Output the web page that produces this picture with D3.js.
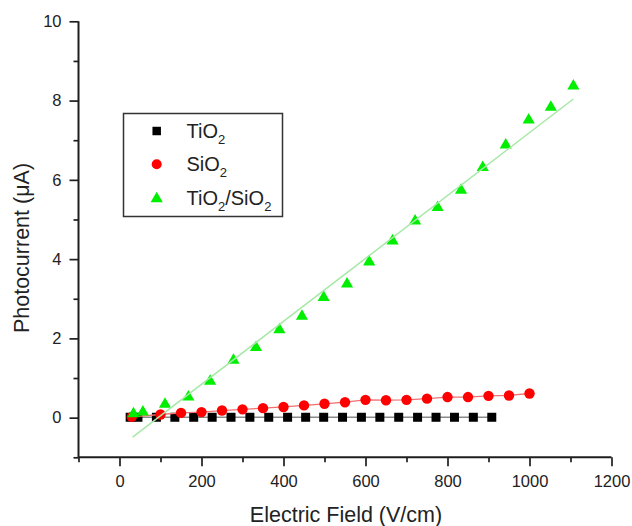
<!DOCTYPE html>
<html>
<head>
<meta charset="utf-8">
<script src="https://cdn.jsdelivr.net/npm/d3@7"></script>
<style>
  body { margin: 0; background: #fff; }
  svg { display: block; }
  text { font-family: "Liberation Sans", Arial, sans-serif; fill: #222; }
</style>
</head>
<body>
<svg id="chart" width="632" height="526"></svg>
<script>
// ---- data ----
const tio2X = [26, 45, 90, 135, 181, 226, 272, 318, 364, 410, 454, 498, 544, 590, 635, 681, 727, 772, 817, 863, 908];
const tio2Y = [0.01, 0.01, 0.01, 0.01, 0.01, 0.01, 0.01, 0.01, 0.01, 0.01, 0.01, 0.01, 0.01, 0.01, 0.01, 0.01, 0.01, 0.01, 0.01, 0.01, 0.01];

const sio2X = [30, 100, 150, 200, 250, 300, 350, 400, 450, 500, 550, 600, 650, 700, 750, 800, 850, 900, 950, 1000];
const sio2Y = [0.02, 0.08, 0.12, 0.14, 0.18, 0.21, 0.24, 0.27, 0.31, 0.35, 0.39, 0.45, 0.44, 0.45, 0.48, 0.52, 0.52, 0.55, 0.56, 0.61];

const compX = [34, 57, 111, 168, 221, 278, 333, 390, 445, 498, 555, 609, 666, 721, 776, 833, 886, 942, 998, 1052, 1107];
const compY = [0.10, 0.14, 0.34, 0.52, 0.92, 1.45, 1.77, 2.22, 2.56, 3.03, 3.37, 3.93, 4.46, 4.96, 5.30, 5.74, 6.31, 6.88, 7.51, 7.83, 8.37];

const fitX = [32, 1107];
const fitY = [-0.49, 8.04];

const xMajorTicks = [0, 200, 400, 600, 800, 1000, 1200];
const xMinorTicks = [-100, 100, 300, 500, 700, 900, 1100];
const yMajorTicks = [0, 2, 4, 6, 8, 10];
const yMinorTicks = [-1, 1, 3, 5, 7, 9];

// ---- layout ----
const svg = d3.select("#chart");
const x = d3.scaleLinear().domain([-100, 1200]).range([78.5, 611.5]);
const y = d3.scaleLinear().domain([-1, 10]).range([457.3, 21.3]);

const axisColor = "#1e1e1e";

const line = d3.line().x(d => x(d[0])).y(d => y(d[1]));
const tio2 = tio2X.map((v, i) => [v, tio2Y[i]]);
const sio2 = sio2X.map((v, i) => [v, sio2Y[i]]);
const comp = compX.map((v, i) => [v, compY[i]]);
const fit = fitX.map((v, i) => [v, fitY[i]]);

// series: TiO2 (black)
svg.append("path").datum(tio2).attr("d", line)
  .attr("fill", "none").attr("stroke", "#8a8a8a").attr("stroke-width", 1.5);
svg.append("g").selectAll("path").data(tio2).join("path")
  .attr("transform", d => `translate(${x(d[0])},${y(d[1])})`)
  .attr("d", d3.symbol().type(d3.symbolSquare).size(81))
  .attr("fill", "#000");

// series: SiO2 (red)
svg.append("path").datum(sio2).attr("d", line)
  .attr("fill", "none").attr("stroke", "#f07070").attr("stroke-width", 1.3);
svg.append("g").selectAll("circle").data(sio2).join("circle")
  .attr("cx", d => x(d[0])).attr("cy", d => y(d[1])).attr("r", 5.2)
  .attr("fill", "#ff0000");

// series: TiO2/SiO2 (green) + linear fit
svg.append("g").selectAll("path").data(comp).join("path")
  .attr("transform", d => `translate(${x(d[0])},${y(d[1])})`)
  .attr("d", d3.symbol().type(d3.symbolTriangle).size(64))
  .attr("fill", "#00ee00");
svg.append("path").datum(fit).attr("d", line)
  .attr("fill", "none").attr("stroke", "#a6e8a6").attr("stroke-width", 1.5);

// ---- axes ----
const gx = svg.append("g").attr("transform", `translate(0,${y(-1)})`);
gx.call(d3.axisBottom(x).tickValues(xMajorTicks).tickSize(9).tickPadding(9).tickFormat(d3.format("d")));
const gxm = svg.append("g").attr("transform", `translate(0,${y(-1)})`);
gxm.call(d3.axisBottom(x).tickValues(xMinorTicks).tickSize(5).tickFormat(""));

const gy = svg.append("g").attr("transform", `translate(${x(-100)},0)`);
gy.call(d3.axisLeft(y).tickValues(yMajorTicks).tickSize(9).tickPadding(8).tickFormat(d3.format("d")));
const gym = svg.append("g").attr("transform", `translate(${x(-100)},0)`);
gym.call(d3.axisLeft(y).tickValues(yMinorTicks).tickSize(5).tickFormat(""));

svg.selectAll(".domain").attr("stroke", axisColor).attr("stroke-width", 2);
svg.selectAll(".tick line").attr("stroke", axisColor).attr("stroke-width", 1.7);
svg.selectAll(".tick text")
  .style("font-family", '"Liberation Sans", Arial, sans-serif')
  .style("font-size", "16.5px").attr("fill", "#222");
[gxm, gym].forEach(g => g.select(".domain").remove());
gx.select(".domain").attr("d", `M${x(-100)},0H${x(1200)}`);
gy.select(".domain").attr("d", `M0,${y(-1)}V${y(10)}`);

// axis titles
svg.append("text")
  .attr("x", 346).attr("y", 522)
  .attr("text-anchor", "middle")
  .style("font-size", "21.5px")
  .text("Electric Field (V/cm)");

svg.append("text")
  .attr("transform", `translate(28.5,248) rotate(-90)`)
  .attr("text-anchor", "middle")
  .style("font-size", "21.5px")
  .text("Photocurrent (\u03bcA)");

// ---- legend ----
const legendNames = [["TiO", "2", "", ""], ["SiO", "2", "", ""], ["TiO", "2", "/SiO", "2"]];
const leg = svg.append("g");
leg.append("rect")
  .attr("x", 123.5).attr("y", 113.5).attr("width", 159).attr("height", 103)
  .attr("fill", "#fff").attr("stroke", "#333").attr("stroke-width", 1.5);

const legRowY = [131, 164.3, 197.7];
leg.append("path").attr("transform", `translate(156.7,${legRowY[0]})`)
  .attr("d", d3.symbol().type(d3.symbolSquare).size(72)).attr("fill", "#000");
leg.append("circle").attr("cx", 156.7).attr("cy", legRowY[1]).attr("r", 5)
  .attr("fill", "#ff0000");
leg.append("path").attr("transform", `translate(156.7,${legRowY[2] + 1})`)
  .attr("d", d3.symbol().type(d3.symbolTriangle).size(64)).attr("fill", "#00ee00");

legendNames.forEach((parts, i) => {
  const t = leg.append("text")
    .attr("x", 186.5).attr("y", legRowY[i] + 7)
    .style("font-size", "20px");
  t.append("tspan").text(parts[0]);
  t.append("tspan").attr("dy", 6).style("font-size", "13px").text(parts[1]);
  if (parts[2]) {
    t.append("tspan").attr("dy", -6).text(parts[2]);
    t.append("tspan").attr("dy", 6).style("font-size", "13px").text(parts[3]);
  }
});
</script>
</body>
</html>
